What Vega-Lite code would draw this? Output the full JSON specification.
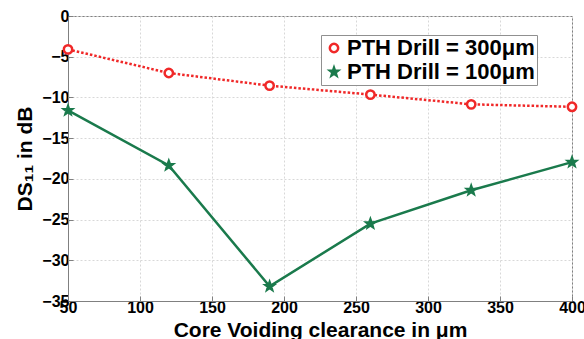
{
  "$schema": "https://vega.github.io/schema/vega-lite/v6.json",
  "width": 504,
  "height": 285,
  "autosize": "none",
  "padding": {"left": 68, "top": 16, "right": 12, "bottom": 38},
  "background": "white",
  "config": {
    "font": "Liberation Sans",
    "view": {"stroke": "#808080", "strokeWidth": 1},
    "axis": {
      "labelFont": "Liberation Sans",
      "labelFontWeight": "bold",
      "labelFontSize": 16,
      "labelColor": "black",
      "labelFlush": false,
      "titleFont": "Liberation Sans",
      "titleFontWeight": "bold",
      "titleFontSize": 21,
      "titleColor": "black",
      "domainColor": "#808080",
      "tickColor": "#808080",
      "tickSize": -5,
      "grid": true,
      "gridColor": "#d8d8d8",
      "gridDash": [2, 2]
    }
  },
  "data": {
    "values": [
      {"x": 50, "y": -4.1, "s": "PTH Drill = 300μm"},
      {"x": 120, "y": -7.0, "s": "PTH Drill = 300μm"},
      {"x": 190, "y": -8.55, "s": "PTH Drill = 300μm"},
      {"x": 260, "y": -9.65, "s": "PTH Drill = 300μm"},
      {"x": 330, "y": -10.85, "s": "PTH Drill = 300μm"},
      {"x": 400, "y": -11.15, "s": "PTH Drill = 300μm"},
      {"x": 50, "y": -11.6, "s": "PTH Drill = 100μm"},
      {"x": 120, "y": -18.35, "s": "PTH Drill = 100μm"},
      {"x": 190, "y": -33.2, "s": "PTH Drill = 100μm"},
      {"x": 260, "y": -25.5, "s": "PTH Drill = 100μm"},
      {"x": 330, "y": -21.4, "s": "PTH Drill = 100μm"},
      {"x": 400, "y": -17.95, "s": "PTH Drill = 100μm"}
    ]
  },
  "encoding": {
    "x": {
      "field": "x", "type": "quantitative",
      "scale": {"domain": [50, 400], "nice": false},
      "axis": {"values": [50, 100, 150, 200, 250, 300, 350, 400], "title": "Core Voiding clearance in μm", "titlePadding": 4, "labelPadding": 3}
    },
    "y": {
      "field": "y", "type": "quantitative",
      "scale": {"domain": [-35, 0], "nice": false},
      "axis": {"values": [0, -5, -10, -15, -20, -25, -30, -35], "title": "DS₁₁ in dB", "titlePadding": 6, "labelPadding": 4}
    }
  },
  "layer": [
    {
      "transform": [{"filter": "datum.s === 'PTH Drill = 300μm'"}],
      "mark": {"type": "line", "strokeWidth": 2.5, "strokeDash": [2.5, 2], "color": "#f02828"},
      "encoding": {}
    },
    {
      "transform": [{"filter": "datum.s === 'PTH Drill = 100μm'"}],
      "mark": {"type": "line", "strokeWidth": 2.5, "color": "#1a7a4c"},
      "encoding": {}
    },
    {
      "mark": {"type": "point", "filled": true, "strokeWidth": 2.5, "opacity": 1, "size": 70},
      "encoding": {
        "stroke": {"field": "s", "type": "nominal", "scale": {"domain": ["PTH Drill = 300μm", "PTH Drill = 100μm"], "range": ["#f02828", "#1a7a4c"]},
          "legend": {
            "orient": "none", "legendX": 253, "legendY": 19, "title": null,
            "labelFont": "Liberation Sans", "labelFontWeight": "bold", "labelFontSize": 22, "labelColor": "black",
            "strokeColor": "#909090", "fillColor": "white", "padding": 2, "rowPadding": 2,
            "symbolSize": 70, "symbolStrokeWidth": 2.5, "labelOffset": 2, "labelLimit": 300
          }},
        "fill": {"field": "s", "type": "nominal", "scale": {"domain": ["PTH Drill = 300μm", "PTH Drill = 100μm"], "range": ["white", "#1a7a4c"]}},
        "shape": {"field": "s", "type": "nominal", "scale": {"domain": ["PTH Drill = 300μm", "PTH Drill = 100μm"], "range": ["circle", "M0,-1L0.24,-0.33L0.95,-0.31L0.39,0.13L0.59,0.81L0,0.41L-0.59,0.81L-0.39,0.13L-0.95,-0.31L-0.24,-0.33Z"]}}
      }
    }
  ]
}
